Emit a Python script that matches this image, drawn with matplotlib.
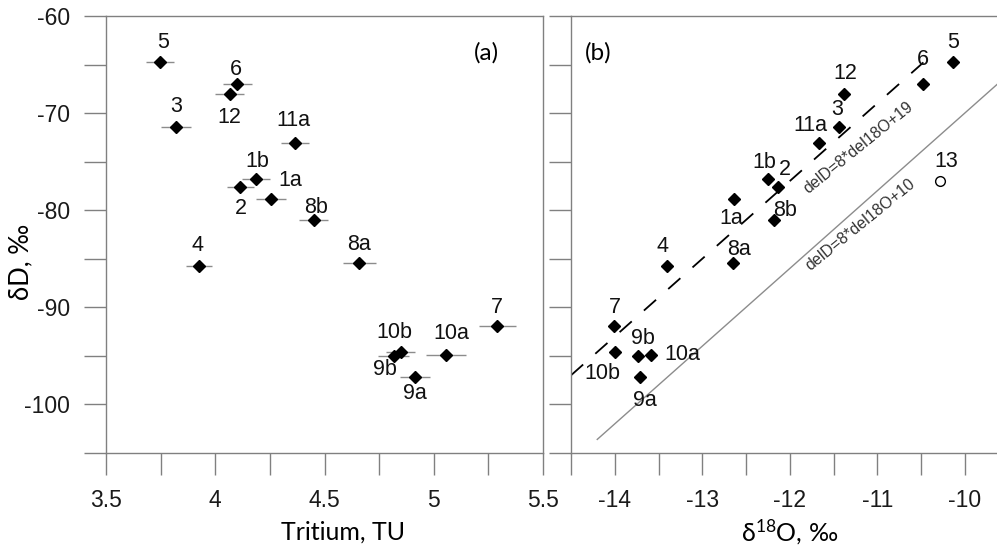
import matplotlib
matplotlib.use("Agg")
import matplotlib.pyplot as plt
from matplotlib.ticker import FixedLocator, FuncFormatter
import numpy as np

plt.rcParams['font.family'] = ['Liberation Sans', 'DejaVu Sans']
plt.rcParams['mathtext.fontset'] = 'custom'
plt.rcParams['mathtext.rm'] = 'Lato'
plt.rcParams['mathtext.it'] = 'Lato:italic'

# ---- data ----
labels = ['5', '6', '12', '3', '11a', '1b', '2', '1a', '8b', '4', '8a',
          '7', '10b', '9b', '10a', '9a']
tritium = [3.747, 4.10, 4.066, 3.82, 4.366, 4.186, 4.115, 4.257, 4.45, 3.927, 4.66,
           5.291, 4.848, 4.816, 5.057, 4.914]
tritium_err = [0.064, 0.066, 0.066, 0.070, 0.065, 0.064, 0.063, 0.069, 0.065, 0.060, 0.076,
               0.086, 0.067, 0.072, 0.092, 0.070]
dD = [-64.7, -67.0, -68.06, -71.47, -73.1, -76.8, -77.6, -78.85, -81.05, -85.75, -85.44,
      -91.93, -94.64, -94.98, -94.88, -97.2]
d18O = [-10.134, -10.472, -11.379, -11.436, -11.665, -12.243, -12.13, -12.632, -12.183,
        -13.406, -12.643, -14.008, -14.0, -13.737, -13.589, -13.714]

label13 = '13'
d18O_13 = -10.278
dD_13 = -76.96

# label offsets in pixels (panel a, panel b)
off_a = {'5': (3, 19), '6': (-1, 14), '12': (0, -23), '3': (0, 21), '11a': (-2, 23),
         '1b': (1, 18), '2': (0, -22), '1a': (19, 19), '8b': (2, 13), '4': (-2, 21),
         '8a': (0, 19), '7': (0, 19), '10b': (-6, 20), '9b': (-9, -14), '10a': (5, 21),
         '9a': (0, -16)}
off_b = {'5': (0, 19), '6': (-1, 24), '12': (1, 21), '3': (-2, 18), '11a': (-9, 18),
         '1b': (-4, 17), '2': (7, 17), '1a': (-3, -19), '8b': (11, 10), '4': (-4, 20),
         '8a': (6, 14), '7': (1, 19), '10b': (-12, -21), '9b': (5, 17), '10a': (32, 0),
         '9a': (5, -23)}

line_slope = 8
line1_icpt = 19
line1_x = [-14.5, -10.45]
line2_icpt = 10
line2_x = [-14.2, -9.5]

fig = plt.figure(figsize=(9.97, 5.52), dpi=100)
axA = fig.add_axes([106/997, 1-453/552, 437/997, 437/552])
axB = fig.add_axes([571/997, 1-453/552, 426/997, 437/552])

spine_c = '#808080'
for ax in (axA, axB):
    for s in ax.spines.values():
        s.set_color(spine_c)
        s.set_linewidth(1.0)
    ax.tick_params(direction='out', length=16, width=1.0, color=spine_c,
                   labelsize=16.5, pad=10, labelcolor='#1a1a1a')
    ax.set_ylim(-105, -60)
    ax.yaxis.set_major_locator(FixedLocator(np.arange(-105, -59, 5)))
    ax.yaxis.set_major_formatter(FuncFormatter(lambda v, p: f'{v:g}' if v % 10 == 0 else ''))

axB.spines['right'].set_visible(False)

# panel a
axA.set_xlim(3.5, 5.5)
axA.xaxis.set_major_locator(FixedLocator(np.arange(3.5, 5.51, 0.25)))
axA.xaxis.set_major_formatter(FuncFormatter(lambda v, p: f'{v:g}' if abs(v*2 - round(v*2)) < 1e-6 else ''))
axA.errorbar(tritium, dD, xerr=tritium_err, fmt='D', color='black', ms=6,
             ecolor='#8c8c8c', elinewidth=1.0, capsize=0, zorder=3)
for lab, x, y in zip(labels, tritium, dD):
    dx, dy = off_a[lab]
    axA.annotate(lab, (x, y), xytext=(dx, dy), textcoords='offset pixels',
                 ha='center', va='center', fontsize=15.5, color='#111111')
axA.text(486.7/997, 1-53.3/552, '(a)', transform=fig.transFigure, ha='center', va='center',
         fontsize=17.5, family=['Lato', 'DejaVu Sans'])

# panel b
axB.set_xlim(-14.5, -14.5 + 426/87.5)
axB.xaxis.set_major_locator(FixedLocator(np.arange(-14.5, -9.4, 0.5)))
axB.xaxis.set_major_formatter(FuncFormatter(lambda v, p: f'{v:g}' if abs(v - round(v)) < 1e-6 else ''))
axB.tick_params(axis='y', labelleft=False)

lx1 = np.array(line1_x)
axB.plot(lx1, line_slope*lx1 + line1_icpt, color='black', lw=1.3,
         linestyle=(0, (9, 9)), zorder=2)
lx2 = np.array(line2_x)
axB.plot(lx2, line_slope*lx2 + line2_icpt, color='#8c8c8c', lw=1.0, zorder=2)

axB.plot(d18O, dD, 'D', color='black', ms=6, zorder=3)
axB.plot([d18O_13], [dD_13], 'o', mfc='none', mec='black', ms=7, mew=1.0, zorder=3)
for lab, x, y in zip(labels, d18O, dD):
    dx, dy = off_b[lab]
    axB.annotate(lab, (x, y), xytext=(dx, dy), textcoords='offset pixels',
                 ha='center', va='center', fontsize=15.5, color='#111111')
axB.annotate(label13, (d18O_13, dD_13), xytext=(6, 19), textcoords='offset pixels',
             ha='center', va='center', fontsize=15.5, color='#111111')

axB.text(-11.21, -73.6, 'delD=8*del18O+19', rotation=39, rotation_mode='anchor',
         ha='center', va='center', fontsize=11.5, color='#333333')
axB.text(-11.19, -81.5, 'delD=8*del18O+10', rotation=39, rotation_mode='anchor',
         ha='center', va='center', fontsize=11.5, color='#333333')
axB.text(598/997, 1-53/552, '(b)', transform=fig.transFigure, ha='center', va='center',
         fontsize=17.5, family=['Lato', 'DejaVu Sans'])

# axis labels
fig.text(343/997, 1-532/552, 'Tritium, TU', ha='center', va='center', fontsize=18,
         family=['Lato', 'DejaVu Sans'])
fig.text(790/997, 1-532/552, 'δ$^{\\mathrm{18}}$O, ‰', ha='center', va='center', fontsize=18,
         family=['Lato', 'DejaVu Sans'])
fig.text(21/997, 1-262/552, 'δD, ‰', ha='center', va='center', fontsize=18.5, rotation=90,
         family=['Lato', 'DejaVu Sans'])

fig.savefig('out.png', dpi=100)
